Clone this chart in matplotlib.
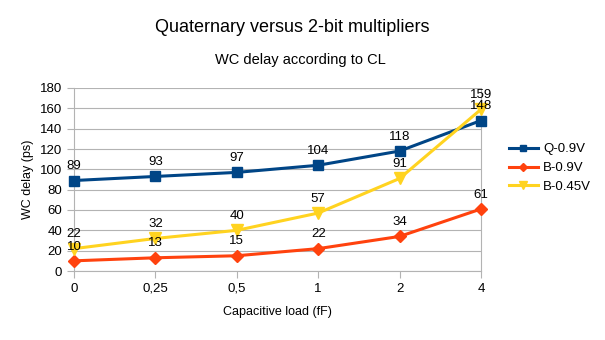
import matplotlib.pyplot as plt

# chart data
loads = ['0', '0,25', '0,5', '1', '2', '4']
q_09 = [89, 93, 97, 104, 118, 148]
b_09 = [10, 13, 15, 22, 34, 61]
b_045 = [22, 32, 40, 57, 91, 159]

plt.rcParams['font.family'] = ['Liberation Sans', 'DejaVu Sans']

fig = plt.figure(figsize=(6.05, 3.4), dpi=100)
ax = fig.add_axes([74 / 605, 1 - 271 / 340, (481 - 74) / 605, (271 - 88) / 340])

x = list(range(len(loads)))
series = [
    ('Q-0.9V', q_09, '#004586', 's', 7),
    ('B-0.9V', b_09, '#ff420e', 'D', 6),
    ('B-0.45V', b_045, '#ffd320', 'v', 8),
]
for name, vals, col, mk, ms in series:
    ax.plot(x, vals, color=col, lw=2.2, marker=mk, markersize=ms, label=name, clip_on=False, zorder=3)
    for xi, v in zip(x, vals):
        ax.annotate(str(v), (xi, v), xytext=(0, 6), textcoords='offset points',
                    ha='center', va='bottom', fontsize=9.5, color='black', zorder=4)

ax.set_xlim(0, len(loads) - 1)
ax.set_ylim(0, 180)
ax.set_yticks(range(0, 181, 20))
ax.set_xticks(x)
ax.set_xticklabels(loads)
ax.yaxis.grid(True, color='#b3b3b3', lw=0.8)
ax.set_axisbelow(True)
ax.spines['top'].set_visible(False)
for s in ['left', 'right', 'bottom']:
    ax.spines[s].set_color('#b3b3b3')
ax.tick_params(axis='both', colors='#b3b3b3', labelcolor='black', labelsize=9.5, length=5)

ax.set_xlabel('Capacitive load (fF)', fontsize=9, labelpad=8)
ax.set_ylabel('WC delay (ps)', fontsize=9, labelpad=4)

fig.text(292 / 605, 1 - 27 / 340, 'Quaternary versus 2-bit multipliers', ha='center', va='center', fontsize=13)
fig.text(300 / 605, 1 - 60 / 340, 'WC delay according to CL', ha='center', va='center', fontsize=10.5)

fig.legend(loc='center left', bbox_to_anchor=(497 / 605, 1 - 168 / 340), frameon=False,
           fontsize=9.5, handlelength=2.2, handletextpad=0.4, labelspacing=0.5, markerscale=0.7)

fig.savefig('out.png', dpi=100)
